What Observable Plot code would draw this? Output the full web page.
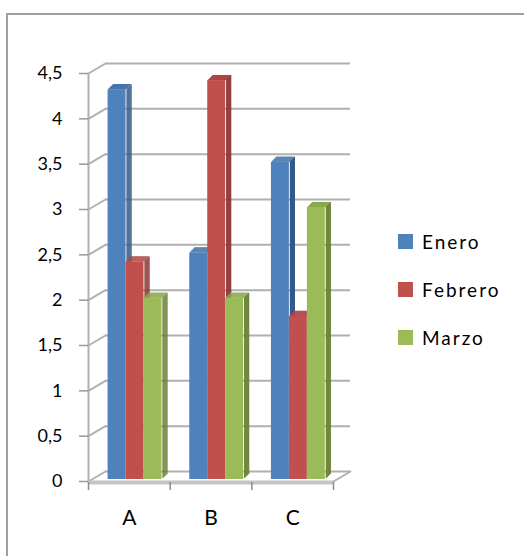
<!DOCTYPE html>
<html><head><meta charset="utf-8">
<script src="https://cdn.jsdelivr.net/npm/d3@7"></script>
<script src="https://cdn.jsdelivr.net/npm/@observablehq/plot@0.6"></script>
<style>
html,body{margin:0;padding:0;background:#fff;overflow:hidden;}
#wrap{position:relative;width:524px;height:556px;overflow:hidden;font-family:Lato,"Open Sans",sans-serif;}
#border{position:absolute;left:6px;top:13px;width:700px;height:700px;border:2px solid #a0a0a0;box-sizing:border-box;}
#chart{position:absolute;left:0;top:0;}
#legend{position:absolute;left:398px;top:234px;}
.item{display:flex;align-items:center;height:15px;margin-bottom:33px;font-size:19px;letter-spacing:2px;color:#000;}
.sw{width:15px;height:15px;margin-right:9px;flex:none;}
</style></head>
<body>
<div id="wrap"><div id="border"></div><div id="chart"></div><div id="legend"></div></div>
<script>
const categories = ["A", "B", "C"];
const series = ["Enero", "Febrero", "Marzo"];
const enero = [4.3, 2.5, 3.5];
const febrero = [2.4, 4.4, 1.8];
const marzo = [2, 2, 3];
const yTicks = [0, 0.5, 1, 1.5, 2, 2.5, 3, 3.5, 4, 4.5];

const frontColors = ["#4F81BD", "#C0504D", "#9BBB59"];
const topColors = ["#4372AA", "#AD4644", "#8AA84E"];
const sideColors = ["#355A88", "#8A3533", "#6A8236"];

const values = [enero, febrero, marzo];
const groupInset = 0.24, barW = 0.22, depth = 5, barDy = -2;
const rows = categories.flatMap((c, i) => series.map((s, j) => ({
  cat: c, series: s, j, value: values[j][i],
  x1: i + groupInset + j * barW, x2: i + groupInset + (j + 1) * barW
})));

const lineShape = {draw(ctx, l) { ctx.moveTo(0, 0); ctx.lineTo(0, -l); }};
const fmt = d => String(d).replace(".", ",");
const gridColor = "#b0b0b0";

const marks = [
  // back wall gridlines
  Plot.ruleY(yTicks, {y: d => d, x1: () => 0, x2: () => categories.length, dx: 17, dy: -10, stroke: gridColor, strokeWidth: 2}),
  // side wall connectors
  Plot.vector(yTicks, {x: () => 0, y: d => d, length: 19.7, rotate: 59.5, anchor: "start", shape: lineShape, stroke: gridColor, strokeWidth: 2}),
  Plot.vector([0], {x: () => categories.length, y: d => d, length: 19.7, rotate: 59.5, anchor: "start", shape: lineShape, stroke: gridColor, strokeWidth: 2}),
  // front vertical edge
  Plot.ruleX([0], {x: d => d, y1: () => 0, y2: () => yTicks[yTicks.length - 1], stroke: gridColor, strokeWidth: 2}),
  // floor front edge
  Plot.ruleY([0], {y: d => d, x1: () => 0, x2: () => categories.length, stroke: "#c4c4c4", strokeWidth: 4, dy: 1}),
  Plot.axisY({ticks: yTicks, label: null, tickSize: 9, tickPadding: 17, tickFormat: fmt, stroke: "#9a9a9a", strokeWidth: 1.5, fill: "#000", fontSize: 18, style: "letter-spacing:2px"}),
  Plot.axisX({ticks: d3.range(categories.length + 1), label: null, tickSize: 8, tickFormat: () => "", stroke: "#8a8a8a", strokeWidth: 1.5, dy: 1}),
  Plot.axisX({ticks: categories.map((c, i) => i + 0.5), label: null, tickSize: 0, tickPadding: 29, tickFormat: d => categories[Math.floor(d)], fill: "#000", fontSize: 21})
];

series.forEach((s, j) => {
  const sub = rows.filter(r => r.j === j);
  for (let k = 1; k <= depth; k++) {
    marks.push(Plot.ruleX(sub, {x: "x2", y1: () => 0, y2: "value", stroke: sideColors[j], strokeWidth: 1.2, dx: k, dy: barDy - k}));
    marks.push(Plot.ruleY(sub, {y: "value", x1: "x1", x2: "x2", stroke: topColors[j], strokeWidth: 1.2, dx: k, dy: barDy - k}));
  }
  marks.push(Plot.rect(sub, {x1: "x1", x2: "x2", y1: () => 0, y2: "value", fill: frontColors[j], dy: barDy}));
});

const chart = Plot.plot({
  width: 524, height: 556,
  marginLeft: 88, marginRight: 191, marginTop: 73, marginBottom: 75,
  x: {domain: [0, categories.length], axis: null},
  y: {domain: [0, 4.5], axis: null},
  style: {fontFamily: "Lato, 'Open Sans', sans-serif", background: "transparent", overflow: "visible"},
  marks
});
document.getElementById("chart").appendChild(chart);

const legend = d3.select("#legend");
series.forEach((s, j) => {
  const it = legend.append("div").attr("class", "item");
  it.append("div").attr("class", "sw").style("background", frontColors[j]);
  it.append("span").text(s);
});
</script>
</body></html>
